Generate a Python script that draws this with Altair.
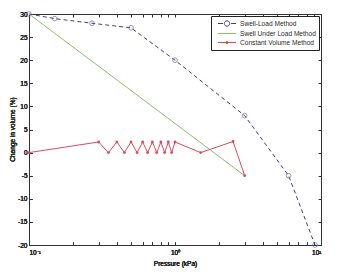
import altair as alt
import pandas as pd

# ---- data ----
sl_p = [0.1, 0.15, 0.27, 0.5, 1.0, 3.0, 6.0, 9.1]
sl_v = [30, 29, 28, 27, 20, 8, -5, -20]

sul_p = [0.1, 3.0]
sul_v = [30, -5]

cv_p = [0.1, 0.3, 0.35, 0.4, 0.45, 0.5, 0.55, 0.6, 0.65, 0.7, 0.75, 0.8,
        0.85, 0.9, 0.95, 1.0, 1.5, 2.5, 3.0]
cv_v = [0, 2.3, 0, 2.3, 0, 2.3, 0, 2.3, 0, 2.3, 0, 2.3, 0, 2.3, 0, 2.3, 0, 2.4, -5]

series_names = ["Swell-Load Method", "Swell Under Load Method", "Constant Volume Method"]
series_colors = ["#3f3f78", "#8cc06a", "#dd4a5a"]
x_ticks = [0.1, 0.2, 0.3, 0.4, 0.5, 0.6, 0.7, 0.8, 0.9,
           1, 2, 3, 4, 5, 6, 7, 8, 9, 10]
y_ticks = [-20, -15, -10, -5, 0, 5, 10, 15, 20, 25, 30]

df_sl = pd.DataFrame({"p": sl_p, "v": sl_v})
df_sul = pd.DataFrame({"p": sul_p, "v": sul_v})
df_cv = pd.DataFrame({"p": cv_p, "v": cv_v})
df_leg = pd.DataFrame({"s": series_names})

FONT = "Liberation Sans"
FS = 6.5
TXT = "#2a2a2a"

label_expr = ("abs(log(datum.value)/LN10 - round(log(datum.value)/LN10)) < 1e-6 ? "
              "(round(log(datum.value)/LN10) == -1 ? '10\u207b\u00b9' : "
              "(round(log(datum.value)/LN10) == 0 ? '10\u2070' : '10\u00b9')) : ''")

xscale = alt.Scale(type="log", domain=[0.1, 10], nice=False)
yscale = alt.Scale(domain=[-20, 30], nice=False, zero=False)

x_bottom = alt.X("p:Q", scale=xscale,
                 axis=alt.Axis(orient="bottom", values=x_ticks, labelExpr=label_expr,
                               tickSize=3, offset=-3, domain=False, grid=False,
                               labelPadding=4, labelFontSize=FS, labelFont=FONT,
                               labelFontWeight="normal",
                               labelColor=TXT, tickColor="#333",
                               title="Pressure (kPa)", titleFont=FONT, titleFontSize=FS,
                               titleFontWeight="normal", titleColor=TXT,
                               titleY=21, titleBaseline="middle"))
y_left = alt.Y("v:Q", scale=yscale,
               axis=alt.Axis(orient="left", values=y_ticks, labelExpr="'' + datum.value",
                             tickSize=3, offset=-3, domain=False, grid=False,
                             labelPadding=2, labelFontSize=FS, labelFont=FONT,
                             labelFontWeight="normal",
                             labelColor=TXT, tickColor="#333",
                             title="Change in volume (%)", titleFont=FONT, titleFontSize=FS,
                             titleFontWeight="normal", titleColor=TXT,
                             titleX=-20, titleY=115, titleBaseline="middle", titleAngle=270))

x_top = alt.X("p:Q", scale=xscale,
              axis=alt.Axis(orient="top", values=x_ticks, labels=False, tickSize=3,
                            offset=-3, domain=False, grid=False, tickColor="#333", title=None))
y_right = alt.Y("v:Q", scale=yscale,
                axis=alt.Axis(orient="right", values=y_ticks, labels=False, tickSize=3,
                              offset=-3, domain=False, grid=False, tickColor="#333", title=None))

sl_line = alt.Chart(df_sl).mark_line(color=series_colors[0], strokeWidth=1,
                                     strokeDash=[4, 3], clip=False).encode(x=x_bottom, y=y_left)
sl_pts = alt.Chart(df_sl).mark_point(shape="circle", size=22, filled=False,
                                     color="#6b6bb0", strokeWidth=1, clip=False).encode(x=x_top, y=y_right)
sul_line = alt.Chart(df_sul).mark_line(color=series_colors[1], strokeWidth=1).encode(x=x_bottom, y=y_left)
cv_line = alt.Chart(df_cv).mark_line(color=series_colors[2], strokeWidth=1).encode(x=x_bottom, y=y_left)
cv_pts = alt.Chart(df_cv).mark_point(shape="circle", size=8, filled=True, opacity=1,
                                     color=series_colors[2]).encode(x=x_bottom, y=y_left)

# legend symbols (unit = 4 px, relative to the symbol centre)
paths = [
    "M-0.125,0H1.1M3.15,0H4.375"
    "M2.8,0A0.675,0.675 0 1,1 1.45,0A0.675,0.675 0 1,1 2.8,0",
    "M-0.125,0H4.375",
    "M-0.125,0H4.375M2.425,0A0.3,0.3 0 1,1 1.825,0A0.3,0.3 0 1,1 2.425,0",
]
legend_layer = alt.Chart(df_leg).mark_point(opacity=0, filled=False).encode(
    color=alt.Color("s:N", scale=alt.Scale(domain=series_names, range=series_colors),
                    legend=alt.Legend(title=None, orient="top-right", offset=2,
                                      fillColor="#fff", strokeColor="#222",
                                      padding=3, symbolOpacity=1, symbolSize=64,
                                      symbolStrokeWidth=1, labelFont=FONT,
                                      labelFontSize=6.6, labelColor=TXT,
                                      rowPadding=0, labelOffset=17)),
    shape=alt.Shape("s:N", scale=alt.Scale(domain=series_names, range=paths)),
)

chart = alt.layer(sl_line, sl_pts, sul_line, cv_line, cv_pts, legend_layer).properties(
    width=292, height=231,
    padding={"left": 21, "top": 6, "right": 5, "bottom": 25},
    autosize=alt.AutoSizeParams(type="none"),
    background="#ffffff",
).configure_view(stroke="#333", strokeWidth=1)

chart.save("out.html", embed_options={"renderer": "svg", "actions": False})
